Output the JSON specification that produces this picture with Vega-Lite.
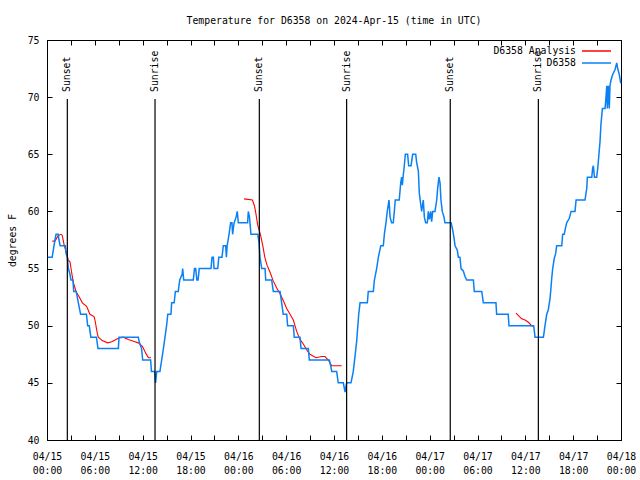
{
  "$schema": "https://vega.github.io/schema/vega-lite/v6.json",
  "width": 574,
  "height": 400,
  "autosize": {"type": "none"},
  "padding": {"left": 47, "top": 40, "right": 19, "bottom": 40},
  "background": "white",
  "title": {"text": "Temperature for D6358 on 2024-Apr-15 (time in UTC)", "font": "DejaVu Sans Mono", "fontSize": 9.8, "fontWeight": "normal", "color": "black", "anchor": "middle", "frame": "group", "baseline": "alphabetic", "offset": 1},
  "config": {
    "font": "DejaVu Sans Mono",
    "view": {"stroke": "black", "strokeWidth": 1},
    "axis": {"labelFont": "DejaVu Sans Mono", "titleFont": "DejaVu Sans Mono", "labelFontSize": 9.8, "titleFontSize": 9.8, "titleFontWeight": "normal", "labelColor": "black", "titleColor": "black", "domainColor": "black", "tickColor": "black", "grid": false}
  },
  "resolve": {"axis": {"x": "independent", "y": "independent"}},
  "datasets": {
    "obs": [
      {"t":"2024-04-15T00:06:00Z","temp":56},{"t":"2024-04-15T00:39:00Z","temp":56},{"t":"2024-04-15T00:53:00Z","temp":57},{"t":"2024-04-15T01:00:00Z","temp":57.5},{"t":"2024-04-15T01:08:00Z","temp":58},{"t":"2024-04-15T01:25:00Z","temp":58},{"t":"2024-04-15T01:30:00Z","temp":57.5},{"t":"2024-04-15T01:39:00Z","temp":57},{"t":"2024-04-15T02:18:00Z","temp":57},{"t":"2024-04-15T02:24:00Z","temp":56.3},{"t":"2024-04-15T02:33:00Z","temp":56},{"t":"2024-04-15T02:41:00Z","temp":55},{"t":"2024-04-15T02:53:00Z","temp":54.5},{"t":"2024-04-15T03:00:00Z","temp":54},{"t":"2024-04-15T03:15:00Z","temp":54},{"t":"2024-04-15T03:21:00Z","temp":53},{"t":"2024-04-15T03:39:00Z","temp":53},{"t":"2024-04-15T03:48:00Z","temp":52.5},{"t":"2024-04-15T03:56:00Z","temp":52},{"t":"2024-04-15T04:13:00Z","temp":51},{"t":"2024-04-15T04:57:00Z","temp":51},{"t":"2024-04-15T05:06:00Z","temp":50},{"t":"2024-04-15T05:18:00Z","temp":50},{"t":"2024-04-15T05:30:00Z","temp":49},{"t":"2024-04-15T06:12:00Z","temp":49},{"t":"2024-04-15T06:24:00Z","temp":48},{"t":"2024-04-15T08:57:00Z","temp":48},{"t":"2024-04-15T09:02:00Z","temp":49},{"t":"2024-04-15T11:27:00Z","temp":49},{"t":"2024-04-15T11:36:00Z","temp":48.5},{"t":"2024-04-15T11:52:00Z","temp":48},{"t":"2024-04-15T12:00:00Z","temp":47},{"t":"2024-04-15T13:00:00Z","temp":47},{"t":"2024-04-15T13:06:00Z","temp":46},{"t":"2024-04-15T13:30:00Z","temp":46},{"t":"2024-04-15T13:37:00Z","temp":45},{"t":"2024-04-15T13:46:00Z","temp":46},{"t":"2024-04-15T14:10:00Z","temp":46},{"t":"2024-04-15T14:23:00Z","temp":47},{"t":"2024-04-15T14:36:00Z","temp":48},{"t":"2024-04-15T14:48:00Z","temp":49},{"t":"2024-04-15T15:00:00Z","temp":50},{"t":"2024-04-15T15:09:00Z","temp":51},{"t":"2024-04-15T15:33:00Z","temp":51},{"t":"2024-04-15T15:38:00Z","temp":52},{"t":"2024-04-15T15:57:00Z","temp":52},{"t":"2024-04-15T16:06:00Z","temp":53},{"t":"2024-04-15T16:28:00Z","temp":53},{"t":"2024-04-15T16:39:00Z","temp":54},{"t":"2024-04-15T16:57:00Z","temp":54.5},{"t":"2024-04-15T17:01:00Z","temp":55},{"t":"2024-04-15T17:09:00Z","temp":54},{"t":"2024-04-15T18:21:00Z","temp":54},{"t":"2024-04-15T18:30:00Z","temp":55},{"t":"2024-04-15T18:39:00Z","temp":55},{"t":"2024-04-15T18:48:00Z","temp":54},{"t":"2024-04-15T18:57:00Z","temp":54},{"t":"2024-04-15T19:06:00Z","temp":55},{"t":"2024-04-15T20:34:00Z","temp":55},{"t":"2024-04-15T20:42:00Z","temp":56},{"t":"2024-04-15T20:52:00Z","temp":56},{"t":"2024-04-15T20:57:00Z","temp":55},{"t":"2024-04-15T21:25:00Z","temp":55},{"t":"2024-04-15T21:33:00Z","temp":56},{"t":"2024-04-15T21:57:00Z","temp":56},{"t":"2024-04-15T22:07:00Z","temp":57},{"t":"2024-04-15T22:25:00Z","temp":57},{"t":"2024-04-15T22:30:00Z","temp":56},{"t":"2024-04-15T22:36:00Z","temp":57},{"t":"2024-04-15T22:50:00Z","temp":58},{"t":"2024-04-15T23:02:00Z","temp":59},{"t":"2024-04-15T23:12:00Z","temp":59},{"t":"2024-04-15T23:17:00Z","temp":58},{"t":"2024-04-15T23:28:00Z","temp":59},{"t":"2024-04-15T23:43:00Z","temp":59.5},{"t":"2024-04-15T23:52:00Z","temp":60},
      {"t":"2024-04-16T00:00:00Z","temp":59},{"t":"2024-04-16T01:10:00Z","temp":59},{"t":"2024-04-16T01:15:00Z","temp":60},{"t":"2024-04-16T01:24:00Z","temp":59.5},{"t":"2024-04-16T01:35:00Z","temp":58},{"t":"2024-04-16T02:26:00Z","temp":58},{"t":"2024-04-16T02:36:00Z","temp":57.3},{"t":"2024-04-16T02:43:00Z","temp":56},{"t":"2024-04-16T02:56:00Z","temp":55},{"t":"2024-04-16T03:21:00Z","temp":55},{"t":"2024-04-16T03:26:00Z","temp":54},{"t":"2024-04-16T04:11:00Z","temp":54},{"t":"2024-04-16T04:23:00Z","temp":53},{"t":"2024-04-16T05:14:00Z","temp":53},{"t":"2024-04-16T05:26:00Z","temp":52},{"t":"2024-04-16T05:38:00Z","temp":51},{"t":"2024-04-16T06:04:00Z","temp":51},{"t":"2024-04-16T06:11:00Z","temp":50},{"t":"2024-04-16T06:54:00Z","temp":50},{"t":"2024-04-16T07:01:00Z","temp":49},{"t":"2024-04-16T07:44:00Z","temp":49},{"t":"2024-04-16T07:52:00Z","temp":48},{"t":"2024-04-16T08:47:00Z","temp":48},{"t":"2024-04-16T08:54:00Z","temp":47},{"t":"2024-04-16T11:25:00Z","temp":47},{"t":"2024-04-16T11:35:00Z","temp":46.5},{"t":"2024-04-16T11:43:00Z","temp":46},{"t":"2024-04-16T12:20:00Z","temp":46},{"t":"2024-04-16T12:32:00Z","temp":45},{"t":"2024-04-16T13:10:00Z","temp":45},{"t":"2024-04-16T13:23:00Z","temp":44.2},{"t":"2024-04-16T13:35:00Z","temp":45},{"t":"2024-04-16T14:08:00Z","temp":45},{"t":"2024-04-16T14:25:00Z","temp":46},{"t":"2024-04-16T14:38:00Z","temp":47.3},{"t":"2024-04-16T14:51:00Z","temp":48.7},{"t":"2024-04-16T15:06:00Z","temp":51},{"t":"2024-04-16T15:16:00Z","temp":52},{"t":"2024-04-16T16:11:00Z","temp":52},{"t":"2024-04-16T16:18:00Z","temp":53},{"t":"2024-04-16T16:56:00Z","temp":53},{"t":"2024-04-16T17:04:00Z","temp":54},{"t":"2024-04-16T17:21:00Z","temp":55},{"t":"2024-04-16T17:34:00Z","temp":56},{"t":"2024-04-16T17:52:00Z","temp":57},{"t":"2024-04-16T18:11:00Z","temp":57},{"t":"2024-04-16T18:19:00Z","temp":58},{"t":"2024-04-16T18:31:00Z","temp":59},{"t":"2024-04-16T18:41:00Z","temp":60},{"t":"2024-04-16T18:54:00Z","temp":61},{"t":"2024-04-16T19:02:00Z","temp":59.5},{"t":"2024-04-16T19:14:00Z","temp":59},{"t":"2024-04-16T19:26:00Z","temp":59},{"t":"2024-04-16T19:34:00Z","temp":60},{"t":"2024-04-16T19:41:00Z","temp":61},{"t":"2024-04-16T20:11:00Z","temp":61},{"t":"2024-04-16T20:22:00Z","temp":62.5},{"t":"2024-04-16T20:29:00Z","temp":63},{"t":"2024-04-16T20:34:00Z","temp":62.3},{"t":"2024-04-16T20:40:00Z","temp":63},{"t":"2024-04-16T20:49:00Z","temp":64},{"t":"2024-04-16T20:57:00Z","temp":65},{"t":"2024-04-16T21:14:00Z","temp":65},{"t":"2024-04-16T21:22:00Z","temp":64},{"t":"2024-04-16T21:40:00Z","temp":64},{"t":"2024-04-16T21:52:00Z","temp":65},{"t":"2024-04-16T22:15:00Z","temp":65},{"t":"2024-04-16T22:22:00Z","temp":64.3},{"t":"2024-04-16T22:35:00Z","temp":63.5},{"t":"2024-04-16T22:42:00Z","temp":61.6},{"t":"2024-04-16T22:53:00Z","temp":60.6},{"t":"2024-04-16T23:00:00Z","temp":60},{"t":"2024-04-16T23:12:00Z","temp":61},{"t":"2024-04-16T23:20:00Z","temp":59.5},{"t":"2024-04-16T23:30:00Z","temp":59},{"t":"2024-04-16T23:42:00Z","temp":59},{"t":"2024-04-16T23:50:00Z","temp":60},{"t":"2024-04-16T23:58:00Z","temp":59.3},
      {"t":"2024-04-17T00:08:00Z","temp":60},{"t":"2024-04-17T00:15:00Z","temp":59.1},{"t":"2024-04-17T00:23:00Z","temp":60},{"t":"2024-04-17T00:40:00Z","temp":60},{"t":"2024-04-17T00:53:00Z","temp":61},{"t":"2024-04-17T01:00:00Z","temp":62},{"t":"2024-04-17T01:10:00Z","temp":63},{"t":"2024-04-17T01:18:00Z","temp":62.5},{"t":"2024-04-17T01:25:00Z","temp":61},{"t":"2024-04-17T01:35:00Z","temp":60},{"t":"2024-04-17T01:48:00Z","temp":59.5},{"t":"2024-04-17T01:55:00Z","temp":59},{"t":"2024-04-17T02:41:00Z","temp":59},{"t":"2024-04-17T02:53:00Z","temp":58.4},{"t":"2024-04-17T03:03:00Z","temp":57.7},{"t":"2024-04-17T03:11:00Z","temp":57},{"t":"2024-04-17T03:28:00Z","temp":56.6},{"t":"2024-04-17T03:36:00Z","temp":56},{"t":"2024-04-17T03:48:00Z","temp":56},{"t":"2024-04-17T03:56:00Z","temp":55},{"t":"2024-04-17T04:13:00Z","temp":54.8},{"t":"2024-04-17T04:26:00Z","temp":54.3},{"t":"2024-04-17T04:39:00Z","temp":54},{"t":"2024-04-17T05:29:00Z","temp":54},{"t":"2024-04-17T05:36:00Z","temp":53},{"t":"2024-04-17T06:32:00Z","temp":53},{"t":"2024-04-17T06:44:00Z","temp":52},{"t":"2024-04-17T08:19:00Z","temp":52},{"t":"2024-04-17T08:24:00Z","temp":51},{"t":"2024-04-17T09:51:00Z","temp":51},{"t":"2024-04-17T09:57:00Z","temp":50},{"t":"2024-04-17T13:03:00Z","temp":50},{"t":"2024-04-17T13:13:00Z","temp":49},{"t":"2024-04-17T14:16:00Z","temp":49},{"t":"2024-04-17T14:28:00Z","temp":50},{"t":"2024-04-17T14:41:00Z","temp":51},{"t":"2024-04-17T14:53:00Z","temp":51.4},{"t":"2024-04-17T15:06:00Z","temp":52.4},{"t":"2024-04-17T15:13:00Z","temp":53.3},{"t":"2024-04-17T15:19:00Z","temp":54.2},{"t":"2024-04-17T15:26:00Z","temp":55},{"t":"2024-04-17T15:38:00Z","temp":55.9},{"t":"2024-04-17T15:48:00Z","temp":56.3},{"t":"2024-04-17T15:56:00Z","temp":57},{"t":"2024-04-17T16:34:00Z","temp":57},{"t":"2024-04-17T16:41:00Z","temp":58},{"t":"2024-04-17T16:53:00Z","temp":58},{"t":"2024-04-17T17:01:00Z","temp":58.5},{"t":"2024-04-17T17:11:00Z","temp":59},{"t":"2024-04-17T17:31:00Z","temp":59.4},{"t":"2024-04-17T17:44:00Z","temp":60},{"t":"2024-04-17T18:14:00Z","temp":60},{"t":"2024-04-17T18:22:00Z","temp":61},{"t":"2024-04-17T19:29:00Z","temp":61},{"t":"2024-04-17T19:42:00Z","temp":62},{"t":"2024-04-17T19:47:00Z","temp":63},{"t":"2024-04-17T20:20:00Z","temp":63},{"t":"2024-04-17T20:27:00Z","temp":63.8},{"t":"2024-04-17T20:32:00Z","temp":64},{"t":"2024-04-17T20:40:00Z","temp":63},{"t":"2024-04-17T20:57:00Z","temp":63},{"t":"2024-04-17T21:05:00Z","temp":63.8},{"t":"2024-04-17T21:14:00Z","temp":65},{"t":"2024-04-17T21:22:00Z","temp":66.1},{"t":"2024-04-17T21:29:00Z","temp":67.6},{"t":"2024-04-17T21:40:00Z","temp":69},{"t":"2024-04-17T22:00:00Z","temp":69},{"t":"2024-04-17T22:07:00Z","temp":70},{"t":"2024-04-17T22:13:00Z","temp":71},{"t":"2024-04-17T22:17:00Z","temp":69},{"t":"2024-04-17T22:25:00Z","temp":71},{"t":"2024-04-17T22:32:00Z","temp":69},{"t":"2024-04-17T22:37:00Z","temp":71},{"t":"2024-04-17T22:45:00Z","temp":71.5},{"t":"2024-04-17T22:58:00Z","temp":72},{"t":"2024-04-17T23:15:00Z","temp":72.4},{"t":"2024-04-17T23:28:00Z","temp":73},{"t":"2024-04-17T23:35:00Z","temp":72.5},{"t":"2024-04-17T23:47:00Z","temp":72},{"t":"2024-04-17T23:58:00Z","temp":71.2}
    ],
    "ana": [
      {"t":"2024-04-15T00:40:00Z","temp":57.4,"seg":1},{"t":"2024-04-15T01:00:00Z","temp":57.4,"seg":1},{"t":"2024-04-15T01:25:00Z","temp":57.9,"seg":1},{"t":"2024-04-15T01:46:00Z","temp":58,"seg":1},{"t":"2024-04-15T01:55:00Z","temp":57.9,"seg":1},{"t":"2024-04-15T02:10:00Z","temp":57,"seg":1},{"t":"2024-04-15T02:28:00Z","temp":56.3,"seg":1},{"t":"2024-04-15T02:41:00Z","temp":55.7,"seg":1},{"t":"2024-04-15T02:53:00Z","temp":55.6,"seg":1},{"t":"2024-04-15T03:05:00Z","temp":54.7,"seg":1},{"t":"2024-04-15T03:18:00Z","temp":53.8,"seg":1},{"t":"2024-04-15T03:31:00Z","temp":53.3,"seg":1},{"t":"2024-04-15T03:38:00Z","temp":53,"seg":1},{"t":"2024-04-15T04:04:00Z","temp":52.5,"seg":1},{"t":"2024-04-15T04:26:00Z","temp":52,"seg":1},{"t":"2024-04-15T04:58:00Z","temp":51.7,"seg":1},{"t":"2024-04-15T05:23:00Z","temp":51,"seg":1},{"t":"2024-04-15T05:54:00Z","temp":50.8,"seg":1},{"t":"2024-04-15T06:01:00Z","temp":50.5,"seg":1},{"t":"2024-04-15T06:19:00Z","temp":49.3,"seg":1},{"t":"2024-04-15T06:26:00Z","temp":49,"seg":1},{"t":"2024-04-15T06:56:00Z","temp":48.7,"seg":1},{"t":"2024-04-15T07:36:00Z","temp":48.5,"seg":1},{"t":"2024-04-15T08:07:00Z","temp":48.6,"seg":1},{"t":"2024-04-15T08:57:00Z","temp":48.9,"seg":1},{"t":"2024-04-15T09:34:00Z","temp":49,"seg":1},{"t":"2024-04-15T10:12:00Z","temp":48.8,"seg":1},{"t":"2024-04-15T11:02:00Z","temp":48.6,"seg":1},{"t":"2024-04-15T11:28:00Z","temp":48.5,"seg":1},{"t":"2024-04-15T11:58:00Z","temp":48.2,"seg":1},{"t":"2024-04-15T12:23:00Z","temp":47.6,"seg":1},{"t":"2024-04-15T12:43:00Z","temp":47.2,"seg":1},{"t":"2024-04-15T13:03:00Z","temp":47.2,"seg":1},
      {"t":"2024-04-16T00:43:00Z","temp":61.1,"seg":2},{"t":"2024-04-16T01:46:00Z","temp":61,"seg":2},{"t":"2024-04-16T02:01:00Z","temp":60.5,"seg":2},{"t":"2024-04-16T02:11:00Z","temp":59.9,"seg":2},{"t":"2024-04-16T02:26:00Z","temp":58.8,"seg":2},{"t":"2024-04-16T02:46:00Z","temp":58,"seg":2},{"t":"2024-04-16T03:04:00Z","temp":57,"seg":2},{"t":"2024-04-16T03:19:00Z","temp":56,"seg":2},{"t":"2024-04-16T03:36:00Z","temp":55.3,"seg":2},{"t":"2024-04-16T03:58:00Z","temp":54.7,"seg":2},{"t":"2024-04-16T04:23:00Z","temp":53.9,"seg":2},{"t":"2024-04-16T04:49:00Z","temp":53.3,"seg":2},{"t":"2024-04-16T05:14:00Z","temp":52.8,"seg":2},{"t":"2024-04-16T05:38:00Z","temp":52.2,"seg":2},{"t":"2024-04-16T06:04:00Z","temp":51.5,"seg":2},{"t":"2024-04-16T06:29:00Z","temp":51,"seg":2},{"t":"2024-04-16T06:54:00Z","temp":50.5,"seg":2},{"t":"2024-04-16T07:19:00Z","temp":49.5,"seg":2},{"t":"2024-04-16T07:44:00Z","temp":48.8,"seg":2},{"t":"2024-04-16T08:09:00Z","temp":48.4,"seg":2},{"t":"2024-04-16T08:34:00Z","temp":47.9,"seg":2},{"t":"2024-04-16T08:59:00Z","temp":47.5,"seg":2},{"t":"2024-04-16T09:44:00Z","temp":47.2,"seg":2},{"t":"2024-04-16T10:28:00Z","temp":47.3,"seg":2},{"t":"2024-04-16T10:52:00Z","temp":47.3,"seg":2},{"t":"2024-04-16T11:17:00Z","temp":47,"seg":2},{"t":"2024-04-16T11:43:00Z","temp":46.5,"seg":2},{"t":"2024-04-16T12:20:00Z","temp":46.5,"seg":2},{"t":"2024-04-16T12:58:00Z","temp":46.5,"seg":2},
      {"t":"2024-04-17T10:50:00Z","temp":51.1,"seg":3},{"t":"2024-04-17T11:07:00Z","temp":50.9,"seg":3},{"t":"2024-04-17T11:32:00Z","temp":50.6,"seg":3},{"t":"2024-04-17T11:58:00Z","temp":50.5,"seg":3},{"t":"2024-04-17T12:23:00Z","temp":50.3,"seg":3},{"t":"2024-04-17T12:47:00Z","temp":50,"seg":3},{"t":"2024-04-17T13:00:00Z","temp":49.95,"seg":3}
    ],
    "sun": [
      {"t":"2024-04-15T02:33:00Z","label":"Sunset"},
      {"t":"2024-04-15T13:33:00Z","label":"Sunrise"},
      {"t":"2024-04-16T02:38:00Z","label":"Sunset"},
      {"t":"2024-04-16T13:35:00Z","label":"Sunrise"},
      {"t":"2024-04-17T02:35:00Z","label":"Sunset"},
      {"t":"2024-04-17T13:38:00Z","label":"Sunrise"}
    ]
  },
  "layer": [
    {
      "data": {"name": "ana"},
      "mark": {"type": "line", "strokeWidth": 1.1},
      "encoding": {
        "x": {"field": "t", "type": "temporal",
          "scale": {"type": "utc", "domain": ["2024-04-15T00:00:00Z", "2024-04-18T00:00:00Z"]},
          "axis": {"orient": "bottom", "title": null, "tickCount": 36,
            "labelExpr": "utchours(datum.value) % 6 == 0 ? [utcFormat(datum.value, '%m/%d'), utcFormat(datum.value, '%H:%M')] : ''",
            "labelOverlap": false, "labelFlush": false, "tickSize": -5, "labelPadding": 16, "labelLineHeight": 14}},
        "y": {"field": "temp", "type": "quantitative",
          "scale": {"domain": [40, 75], "nice": false, "zero": false},
          "axis": {"orient": "left", "title": "degrees F", "values": [40, 45, 50, 55, 60, 65, 70, 75], "tickSize": -5, "labelPadding": 13, "titlePadding": 10}},
        "color": {"datum": "D6358 Analysis",
          "scale": {"domain": ["D6358 Analysis", "D6358"], "range": ["#ff0000", "#0a80f5"]},
          "legend": {"orient": "none", "legendX": 543.5, "legendY": 5, "title": null, "direction": "vertical", "symbolType": "M-2.9,0H2.9", "symbolSize": 100, "symbolStrokeWidth": 1.5, "labelAlign": "right", "labelOffset": -26.5, "labelFontSize": 9.8, "labelColor": "black", "padding": 0, "rowPadding": 1}},
        "detail": {"field": "seg"}
      }
    },
    {
      "data": {"name": "obs"},
      "mark": {"type": "line", "strokeWidth": 1.5},
      "encoding": {
        "x": {"field": "t", "type": "temporal", "axis": null},
        "y": {"field": "temp", "type": "quantitative", "axis": null},
        "color": {"datum": "D6358"}
      }
    },
    {
      "data": {"name": "sun"},
      "mark": {"type": "rule", "color": "black", "strokeWidth": 1.2},
      "encoding": {
        "x": {"field": "t", "type": "temporal",
          "axis": {"orient": "top", "title": null, "labels": false, "tickCount": 36, "tickSize": -5}},
        "y": {"datum": 69.84, "type": "quantitative",
          "axis": {"orient": "right", "title": null, "labels": false, "values": [40, 45, 50, 55, 60, 65, 70, 75], "tickSize": -5}},
        "y2": {"datum": 40}
      }
    },
    {
      "data": {"name": "sun"},
      "mark": {"type": "text", "angle": 270, "align": "left", "baseline": "middle", "font": "DejaVu Sans Mono", "fontSize": 9.8, "color": "black"},
      "encoding": {
        "x": {"field": "t", "type": "temporal", "axis": null},
        "y": {"datum": 70.45, "type": "quantitative", "axis": null},
        "text": {"field": "label"}
      }
    }
  ]
}
